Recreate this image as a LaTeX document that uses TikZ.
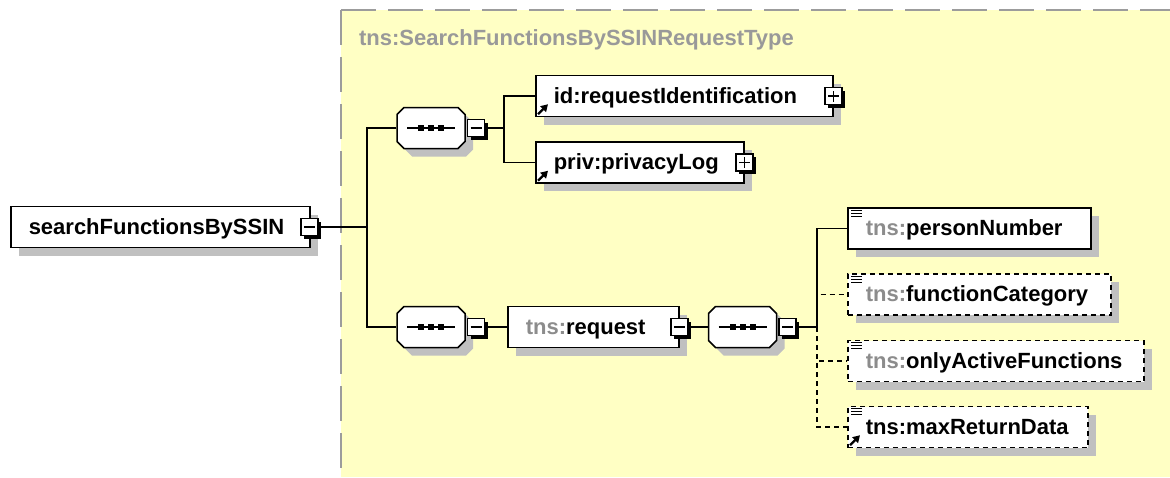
\documentclass[tikz,border=0pt]{standalone}
\usepackage{fontspec}
\setmainfont{Liberation Sans}
\usetikzlibrary{arrows.meta}
\usetikzlibrary{shadows}

\definecolor{grpyellow}{HTML}{FFFFC4}
\definecolor{grpline}{HTML}{9C9C9C}
\definecolor{nsgray}{HTML}{8C8C8C}
\definecolor{titlegray}{HTML}{999999}
\definecolor{shadowgray}{HTML}{C0C0C0}

\newcommand{\ns}[1]{\textcolor{nsgray}{#1}}

\tikzset{
  boxshadow/.style={drop shadow={shadow xshift=8pt, shadow yshift=-8pt, fill=shadowgray, opacity=1}},
  elem/.style={draw, fill=white, minimum height=41pt, inner sep=0pt, text width=#1, align=left,
    anchor=west, boxshadow, execute at begin node={\hspace*{18pt}\rule[-6pt]{0pt}{26pt}}},
  optional/.style={dash pattern=on 5pt off 4pt},
  seq/.style={minimum width=68pt, minimum height=41pt, inner sep=0pt},
  ctrl/.style={draw, fill=white, minimum size=17pt, inner sep=0pt, line width=1.6pt,
    drop shadow={shadow xshift=3pt, shadow yshift=-3pt, fill=black, opacity=1}},
  minusbox/.style={ctrl, path picture={
    \draw[line width=1.3pt] ([xshift=3pt]path picture bounding box.west) -- ([xshift=-3pt]path picture bounding box.east);}},
  plusbox/.style={ctrl, path picture={
    \draw[line width=1.3pt] ([xshift=3pt]path picture bounding box.west) -- ([xshift=-3pt]path picture bounding box.east)
          ([yshift=3pt]path picture bounding box.south) -- ([yshift=-3pt]path picture bounding box.north);}},
}

\begin{document}
\begin{tikzpicture}[x=1pt, y=-1pt, line width=1.5pt, font=\fontsize{22}{26}\selectfont\bfseries]
  \fill[white] (0,0) rectangle (1170,477);
  \useasboundingbox (0,0) rectangle (1170,477);

  % complexType
  \fill[grpyellow] (341,10) rectangle (1170,477);
  \draw[grpline, line width=2pt, dash pattern=on 35pt off 12pt] (341,10) -- (341,477);
  \draw[grpline, line width=2pt, dash pattern=on 35pt off 12pt] (341,10) -- (1170,10);
  \node[anchor=base west, text=titlegray] (title) at (355,45) {tns:SearchFunctionsBySSINRequestType};

  % elements
  \node[elem=299pt] (sfb) at (10,227) {searchFunctionsBySSIN};
  \node[seq] (seq1) at (431,128) {};
  \node[seq] (seq2) at (431,327) {};
  \node[elem=171pt] (req) at (507,327) {\ns{tns:}request};
  \node[seq] (seq3) at (742.5,327) {};
  \node[elem=297pt] (id) at (535,96) {id:requestIdentification};
  \node[elem=208pt] (priv) at (535,162.5) {priv:privacyLog};
  \node[elem=243pt] (pn) at (847,228.5) {\ns{tns:}personNumber};
  \node[elem=263pt, optional] (fc) at (847,294.5) {\ns{tns:}functionCategory};
  \node[elem=296pt, optional] (oaf) at (847,361) {\ns{tns:}onlyActiveFunctions};
  \node[elem=240pt, optional] (mrd) at (847,427) {tns:maxReturnData};

  % sequence octagons
  \foreach \s in {seq1,seq2,seq3} {
    \fill[shadowgray] ([shift={(8,8)}]\s.center) ++(-34,-13.5) -- ++(7,-7) -- ++(54,0) -- ++(7,7)
      -- ++(0,27) -- ++(-7,7) -- ++(-54,0) -- ++(-7,-7) -- cycle;
    \draw[fill=white] (\s.center) ++(-34,-13.5) -- ++(7,-7) -- ++(54,0) -- ++(7,7)
      -- ++(0,27) -- ++(-7,7) -- ++(-54,0) -- ++(-7,-7) -- cycle;
    \draw ([xshift=-24pt]\s.center) -- ([xshift=24pt]\s.center);
    \foreach \dx in {-10,0,10}
      \fill ([xshift=\dx pt]\s.center) ++(-3,-3) rectangle ++(6,6);
  }

  % +/- boxes
  \node[minusbox] (sfb-m) at ([xshift=-1pt]sfb.east) {};
  \node[minusbox, anchor=west] (seq1-m) at ([xshift=1pt]seq1.east) {};
  \node[minusbox, anchor=west] (seq2-m) at ([xshift=1pt]seq2.east) {};
  \node[minusbox] (req-m) at (req.east) {};
  \node[minusbox, anchor=west] (seq3-m) at ([xshift=1pt]seq3.east) {};
  \node[plusbox] (id-p) at (id.east) {};
  \node[plusbox] (priv-p) at (priv.east) {};

  % connectors
  \coordinate (b1) at (367,227);
  \coordinate (b2) at (504,128);
  \coordinate (b3) at (817,327);
  \draw (sfb-m.east) -- (b1);
  \draw (seq1.west) -| (b1) |- (seq2.west);
  \draw (seq1-m.east) -- (b2);
  \draw (id.west) -| (b2) |- (priv.west);
  \draw (seq2-m.east) -- (req.west);
  \draw (req-m.east) -- (seq3.west);
  \draw (seq3-m.east) -- (b3);
  \draw (pn.west) -| (b3);
  \draw[optional] (b3) |- (fc.west);
  \draw[optional] (b3) |- (oaf.west);
  \draw[optional] (b3) |- (mrd.west);

  % icons
  \foreach \n in {id,priv,mrd}
    \draw[-{Triangle[length=7pt,width=8pt]}, line width=2.4pt] ([shift={(3,-3)}]\n.south west) -- ++(10,-10);
  \foreach \n in {pn,fc,oaf,mrd}
    \foreach \dy in {3,6,9}
      \draw[line width=1.2pt] ([shift={(4,\dy)}]\n.north west) -- ++(11,0);
\end{tikzpicture}
\end{document}
